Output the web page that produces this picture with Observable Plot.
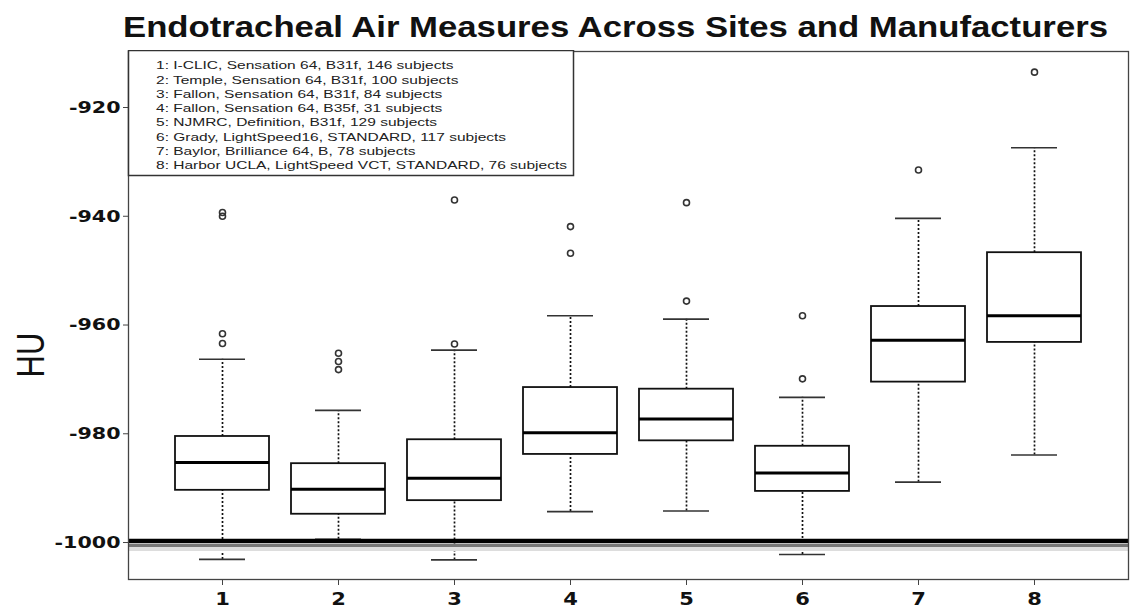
<!DOCTYPE html>
<html>
<head>
<meta charset="utf-8">
<script src="https://cdn.jsdelivr.net/npm/d3@7"></script>
<script src="https://cdn.jsdelivr.net/npm/@observablehq/plot@0.6"></script>
<style>
  html, body { margin: 0; padding: 0; background: #fff; }
  #chart { width: 1130px; }
  #title { display: block; }
</style>
</head>
<body>
<div id="chart"></div>
<script>
// ---- data ----
const titleText = "Endotracheal Air Measures Across Sites and Manufacturers";
const yLabel = "HU";
const sites = ["1", "2", "3", "4", "5", "6", "7", "8"];
const lowerWhisker = [-1003.1, -999.4, -1003.2, -994.3, -994.2, -1002.2, -988.9, -983.9];
const q1Values     = [-990.4, -994.8, -992.3, -983.8, -981.3, -990.6, -970.5, -963.2];
const medianValues = [-985.3, -990.2, -988.2, -979.8, -977.3, -987.2, -962.8, -958.3];
const q3Values     = [-980.5, -985.5, -981.1, -971.5, -971.8, -982.3, -956.6, -946.7];
const upperWhisker = [-966.3, -975.7, -964.6, -958.3, -958.9, -973.3, -940.4, -927.4];
const outlierSites  = ["1", "1", "1", "1", "2", "2", "2", "3", "3", "4", "4", "5", "5", "6", "6", "7", "8"];
const outlierValues = [-961.6, -963.4, -939.3, -940.0, -965.2, -966.7, -968.2, -963.5, -937.0, -941.9, -946.8, -955.6, -937.5, -969.9, -958.3, -931.5, -913.5];
const legendLines = [
  "1: I-CLIC, Sensation 64, B31f, 146 subjects",
  "2: Temple, Sensation 64, B31f, 100 subjects",
  "3: Fallon, Sensation 64, B31f, 84 subjects",
  "4: Fallon, Sensation 64, B35f, 31 subjects",
  "5: NJMRC, Definition, B31f, 129 subjects",
  "6: Grady, LightSpeed16, STANDARD, 117 subjects",
  "7: Baylor, Brilliance 64, B, 78 subjects",
  "8: Harbor UCLA, LightSpeed VCT, STANDARD, 76 subjects"
];
const yTicks = [-920, -940, -960, -980, -1000];
const referenceLine = [-1000];

// ---- tables built from the arrays ----
const boxes = sites.map((s, i) => ({
  site: s, lo: lowerWhisker[i], q1: q1Values[i], median: medianValues[i], q3: q3Values[i], hi: upperWhisker[i]
}));
const outliers = outlierSites.map((s, i) => ({site: s, value: outlierValues[i]}));

// ---- title ----
const chart = d3.select("#chart");
const tsvg = chart.append("svg").attr("id", "title").attr("width", 1130).attr("height", 50);
tsvg.append("text")
  .attr("x", 615.5).attr("y", 37)
  .attr("text-anchor", "middle")
  .attr("font-family", "Liberation Sans, Arial, sans-serif")
  .attr("font-weight", "bold")
  .attr("font-size", 30)
  .attr("fill", "#111")
  .attr("textLength", 985)
  .attr("lengthAdjust", "spacingAndGlyphs")
  .text(titleText);

// ---- plot ----
const dotted = {strokeDasharray: "2,2", strokeWidth: 1.7, stroke: "#111"};
const plot = Plot.plot({
  width: 1130,
  height: 559,
  marginLeft: 128,
  marginRight: 2,
  marginTop: 1,
  marginBottom: 30,
  style: {background: "#fff", fontFamily: "DejaVu Sans, sans-serif", color: "#111"},
  x: {type: "band", domain: sites, paddingInner: 0.19, paddingOuter: 0.405, label: null},
  y: {domain: [-1006.8, -909.7], label: null},
  marks: [
    Plot.ruleX(boxes, {x: "site", y1: "lo", y2: "q1", ...dotted}),
    Plot.ruleX(boxes, {x: "site", y1: "q3", y2: "hi", ...dotted}),
    Plot.tickY(boxes, {x: "site", y: "lo", insetLeft: 24, insetRight: 24, stroke: "#333", strokeWidth: 1.7}),
    Plot.tickY(boxes, {x: "site", y: "hi", insetLeft: 24, insetRight: 24, stroke: "#333", strokeWidth: 1.7}),
    Plot.ruleY(referenceLine, {y: d => d, stroke: "#ddd", strokeWidth: 4, dy: 6.5}),
    Plot.ruleY(referenceLine, {y: d => d, stroke: "#777", strokeWidth: 3, dy: 3}),
    Plot.ruleY(referenceLine, {y: d => d, stroke: "#000", strokeWidth: 4.5, dy: -1.5}),
    Plot.barY(boxes, {x: "site", y1: "q1", y2: "q3", fill: "#fff", stroke: "#111", strokeWidth: 1.8}),
    Plot.tickY(boxes, {x: "site", y: "median", stroke: "#000", strokeWidth: 3}),
    Plot.dot(outliers, {x: "site", y: "value", r: 3, stroke: "#333", strokeWidth: 1.6, fill: "none"}),
    Plot.frame({stroke: "#444", strokeWidth: 1.3}),
    Plot.axisY({ticks: yTicks, tickFormat: d => String(d), tickSize: 5, tickPadding: 3, fontSize: 16.5, fontWeight: "bold", label: null, stroke: "#444"}),
    Plot.axisX({tickSize: 6, tickPadding: 7, fontSize: 17.5, fontWeight: "bold", label: null, stroke: "#444"})
  ]
});
chart.node().appendChild(plot);

const svg = d3.select(plot);

// widen tick labels to match the reference proportions
function stretch(sel, factor) {
  sel.each(function () {
    const w = this.getComputedTextLength();
    if (w > 0) {
      d3.select(this).attr("textLength", w * factor).attr("lengthAdjust", "spacingAndGlyphs");
    }
  });
}
stretch(svg.selectAll('g[aria-label="y-axis tick label"] text'), 1.25);
stretch(svg.selectAll('g[aria-label="x-axis tick label"] text'), 1.2);

// y axis title (rotated)
svg.append("text")
  .attr("transform", "translate(44,305) rotate(-90) scale(1,1.25)")
  .attr("text-anchor", "middle")
  .attr("font-family", "Liberation Sans, Arial, sans-serif")
  .attr("font-size", 31)
  .attr("fill", "#111")
  .text(yLabel);

// legend box
const lg = svg.append("g").attr("class", "legend").attr("text-anchor", "start");
lg.append("rect")
  .attr("x", 128.5).attr("y", 0.5).attr("width", 445).attr("height", 125)
  .attr("fill", "#fff").attr("stroke", "#333").attr("stroke-width", 1.5);
const lt = lg.selectAll("text").data(legendLines).join("text")
  .attr("x", 156)
  .attr("y", (d, i) => 19.2 + 14.3 * i)
  .attr("text-anchor", "start")
  .attr("font-family", "Liberation Sans, Arial, sans-serif")
  .attr("font-size", 11.5)
  .attr("fill", "#222")
  .text(d => d);
const natural8 = lt.nodes()[7].getComputedTextLength();
const lfactor = natural8 > 0 ? 411 / natural8 : 1;
stretch(lt, lfactor);
</script>
</body>
</html>
